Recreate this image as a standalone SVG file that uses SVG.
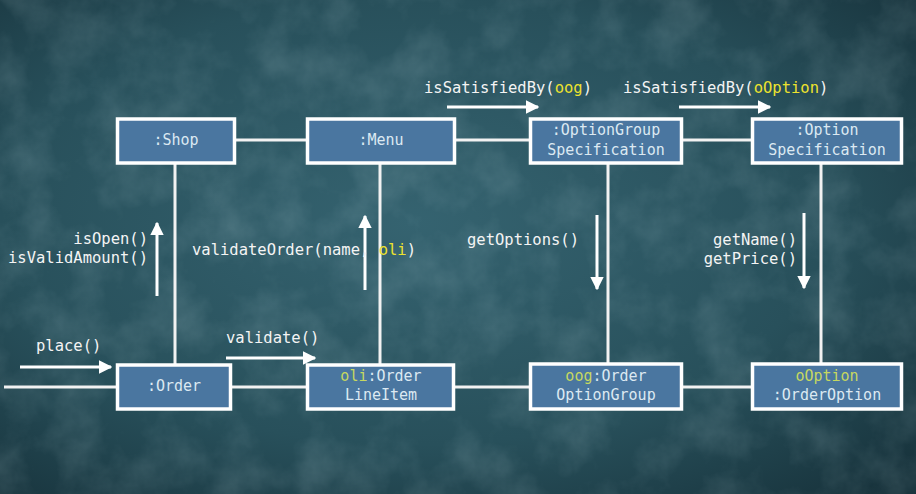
<svg xmlns="http://www.w3.org/2000/svg" width="916" height="494" viewBox="0 0 916 494">
<defs>
<radialGradient id="bg" cx="0.45" cy="0.45" r="0.75">
<stop offset="0" stop-color="#356370"/>
<stop offset="0.6" stop-color="#28505b"/>
<stop offset="1" stop-color="#17323b"/>
</radialGradient>
<filter id="tex" x="0" y="0" width="100%" height="100%">
<feTurbulence type="fractalNoise" baseFrequency="0.02" numOctaves="5" seed="7"/>
<feColorMatrix type="matrix" values="0 0 0 0 0.7  0 0 0 0 0.88  0 0 0 0 0.92  0 0 0 1.2 -0.45"/>
</filter>
<marker id="ah" viewBox="0 0 10 10" refX="9" refY="5" markerWidth="4.5" markerHeight="4.5" orient="auto" markerUnits="strokeWidth">
<path d="M0,0 L10,5 L0,10 Z" fill="#ffffff"/>
</marker>
<style>
.box{fill:#4a76a0;stroke:#ffffff;stroke-width:3.5}
.bt{font-family:"DejaVu Sans Mono","Liberation Mono",monospace;font-size:15px;fill:#dce9f2;text-anchor:middle}
.hl{fill:#c6d860}
.lbl{font-family:"DejaVu Sans Mono","Liberation Mono",monospace;font-size:15.5px;fill:#f4f4f4}
.yl{fill:#ece22e}
.ln{stroke:#f2f2f2;stroke-width:3;fill:none}
.ar{stroke:#ffffff;stroke-width:3;fill:none;marker-end:url(#ah)}
</style>
</defs>
<rect width="916" height="494" fill="url(#bg)"/>
<rect width="916" height="494" filter="url(#tex)" opacity="0.22"/>

<g id="connectors">
<line class="ln" x1="176" y1="140" x2="827" y2="140"/>
<line class="ln" x1="4" y1="387" x2="827" y2="387"/>
<line class="ln" x1="175" y1="140" x2="175" y2="387"/>
<line class="ln" x1="380" y1="140" x2="380" y2="387"/>
<line class="ln" x1="608" y1="140" x2="608" y2="387"/>
<line class="ln" x1="821" y1="140" x2="821" y2="387"/>
</g>

<g id="messages">
<line class="ar" x1="447" y1="107" x2="538" y2="107"/>
<text class="lbl" x="424" y="93">isSatisfiedBy(<tspan class="yl">oog</tspan>)</text>
<line class="ar" x1="679" y1="107" x2="770" y2="107"/>
<text class="lbl" x="623" y="93">isSatisfiedBy(<tspan class="yl">oOption</tspan>)</text>
<line class="ar" x1="157" y1="296" x2="157" y2="223"/>
<text class="lbl" x="148" y="244" text-anchor="end">isOpen()</text>
<text class="lbl" x="148" y="263" text-anchor="end">isValidAmount()</text>
<line class="ar" x1="365" y1="290" x2="365" y2="216"/>
<text class="lbl" x="192" y="255">validateOrder(name, <tspan class="yl">oli</tspan>)</text>
<line class="ar" x1="597" y1="215" x2="597" y2="289"/>
<text class="lbl" x="467" y="245">getOptions()</text>
<line class="ar" x1="804" y1="213" x2="804" y2="288"/>
<text class="lbl" x="797" y="245" text-anchor="end">getName()</text>
<text class="lbl" x="797" y="264" text-anchor="end">getPrice()</text>
<line class="ar" x1="20" y1="367" x2="111" y2="367"/>
<text class="lbl" x="36" y="351">place()</text>
<line class="ar" x1="226" y1="358" x2="315" y2="358"/>
<text class="lbl" x="226" y="343">validate()</text>
</g>

<g id="shop">
<rect class="box" x="117.5" y="119" width="117" height="44"/>
<text class="bt" x="176" y="145">:Shop</text>
</g>
<g id="menu">
<rect class="box" x="307.5" y="119" width="147" height="44"/>
<text class="bt" x="381" y="145">:Menu</text>
</g>
<g id="optionGroupSpec">
<rect class="box" x="530.5" y="119" width="151" height="44"/>
<text class="bt" x="606" y="135">:OptionGroup</text>
<text class="bt" x="606" y="155">Specification</text>
</g>
<g id="optionSpec">
<rect class="box" x="752.5" y="119" width="149" height="44"/>
<text class="bt" x="827" y="135">:Option</text>
<text class="bt" x="827" y="155">Specification</text>
</g>
<g id="order">
<rect class="box" x="117.5" y="365" width="113" height="44"/>
<text class="bt" x="174" y="391">:Order</text>
</g>
<g id="orderLineItem">
<rect class="box" x="307.5" y="365" width="146" height="44"/>
<text class="bt" x="381" y="381"><tspan class="hl">oli</tspan>:Order</text>
<text class="bt" x="381" y="400">LineItem</text>
</g>
<g id="orderOptionGroup">
<rect class="box" x="530.5" y="364" width="151" height="45"/>
<text class="bt" x="606" y="381"><tspan class="hl">oog</tspan>:Order</text>
<text class="bt" x="606" y="400">OptionGroup</text>
</g>
<g id="orderOption">
<rect class="box" x="752.5" y="364" width="149" height="45"/>
<text class="bt hl" x="827" y="381">oOption</text>
<text class="bt" x="827" y="400">:OrderOption</text>
</g>
</svg>
